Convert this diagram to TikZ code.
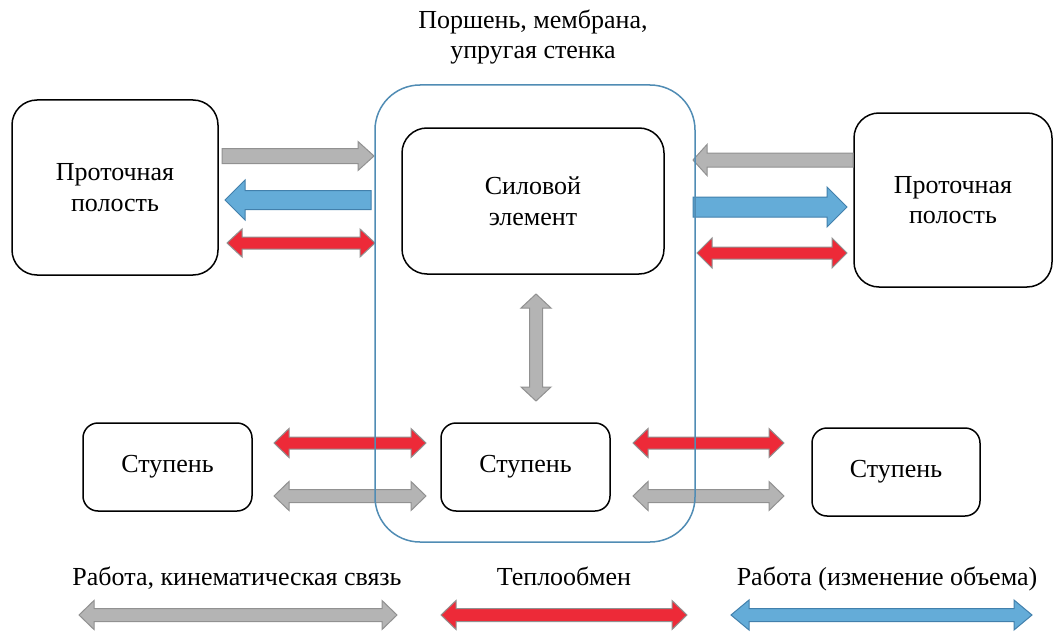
\documentclass[tikz,border=0pt]{standalone}
\usepackage{fontspec}
\setmainfont{Liberation Serif}
\newfontfamily\tnr{Liberation Serif}
\usetikzlibrary{calc}
\definecolor{gfill}{RGB}{180,180,180}
\definecolor{gline}{RGB}{145,145,145}
\definecolor{rfill}{RGB}{237,42,56}
\definecolor{bfill}{RGB}{100,172,216}
\definecolor{bline}{RGB}{66,128,172}
\definecolor{cline}{RGB}{80,140,180}
% single block arrow: style, tail, tip, half shaft, half head, head length
\newcommand\sarrow[6]{%
  \draw[#1] ($(#2)!#4!90:(#3)$) -- ($(#3)!#6!(#2)!#4!90:(#3)$) -- ($(#3)!#6!(#2)!#5!90:(#3)$) -- (#3)
    -- ($(#3)!#6!(#2)!#5!-90:(#3)$) -- ($(#3)!#6!(#2)!#4!-90:(#3)$) -- ($(#2)!#4!-90:(#3)$) -- cycle;}
% double block arrow: style, tip1, tip2, half shaft, half head, head length
\newcommand\darrow[6]{%
  \draw[#1] (#2) -- ($(#2)!#6!(#3)!#5!90:(#3)$) -- ($(#2)!#6!(#3)!#4!90:(#3)$)
    -- ($(#3)!#6!(#2)!#4!90:(#3)$) -- ($(#3)!#6!(#2)!#5!90:(#3)$) -- (#3)
    -- ($(#3)!#6!(#2)!#5!-90:(#3)$) -- ($(#3)!#6!(#2)!#4!-90:(#3)$)
    -- ($(#2)!#6!(#3)!#4!-90:(#3)$) -- ($(#2)!#6!(#3)!#5!-90:(#3)$) -- cycle;}
\tikzset{
  box/.style={draw=black, line width=1.5pt, rounded corners=#1, align=center, inner sep=0pt},
  box/.default=25pt,
  garr/.style={fill=gfill, draw=gline, line width=1pt, line join=miter},
  rarr/.style={fill=rfill, draw=gline, line width=1pt, line join=miter},
  barr/.style={fill=bfill, draw=bline, line width=1pt, line join=miter},
  lbl/.style={align=center, inner sep=0pt},
}
\begin{document}
\begin{tikzpicture}[x=1pt, y=-1pt, font=\tnr\fontsize{26}{30.5}\selectfont]
\useasboundingbox (0,0) rectangle (1053,634);
\fill[white] (0,0) rectangle (1053,634);

% boxes
\node[box, minimum width=206pt, minimum height=175pt] (lcav) at (115,187.5) {Проточная\\полость};
\node[box, minimum width=198pt, minimum height=174pt] (rcav) at (953,200) {Проточная\\полость};
\node[box, minimum width=262pt, minimum height=146pt] (force) at (533,201) {Силовой\\элемент};
\node[box=15pt, minimum width=169pt, minimum height=88pt] (stL) at (167.5,467) {Ступень};
\node[box=15pt, minimum width=169pt, minimum height=88pt] (stC) at (525.5,467) {Ступень};
\node[box=15pt, minimum width=168pt, minimum height=88pt] (stR) at (896,472) {Ступень};

\node[lbl] (toplbl) at (533,37) {Поршень, мембрана,\\упругая стенка};

% arrow end points
\coordinate (a1) at (222,156);  \coordinate (a2) at (374,156);
\coordinate (b1) at (371,200);  \coordinate (b2) at (225,200);
\coordinate (c1) at (227,243);  \coordinate (c2) at (375,243);
\coordinate (d1) at (853,160);  \coordinate (d2) at (693,160);
\coordinate (e1) at (693,207);  \coordinate (e2) at (847,207);
\coordinate (f1) at (697,253);  \coordinate (f2) at (847,253);
\coordinate (v1) at (536,294);  \coordinate (v2) at (536,401);
\coordinate (g1) at (274,443);  \coordinate (g2) at (426,443);
\coordinate (h1) at (274,496);  \coordinate (h2) at (426,496);
\coordinate (i1) at (633,443);  \coordinate (i2) at (784,443);
\coordinate (j1) at (633,496);  \coordinate (j2) at (784,496);

\sarrow{garr}{a1}{a2}{7.5pt}{14.5pt}{16pt}
\sarrow{barr}{b1}{b2}{9.5pt}{20pt}{20pt}
\darrow{rarr}{c1}{c2}{6pt}{14pt}{15pt}
\sarrow{garr}{d1}{d2}{7pt}{15.5pt}{14pt}
\sarrow{barr}{e1}{e2}{10pt}{20pt}{20pt}
\darrow{rarr}{f1}{f2}{6pt}{15pt}{15pt}
\darrow{garr}{v1}{v2}{6.5pt}{15pt}{14pt}
\darrow{rarr}{g1}{g2}{6pt}{14.5pt}{15pt}
\darrow{garr}{h1}{h2}{6.5pt}{14.5pt}{15pt}
\darrow{rarr}{i1}{i2}{6pt}{14.5pt}{15pt}
\darrow{garr}{j1}{j2}{6.5pt}{14.5pt}{15pt}

% container (drawn over arrows)
\node[draw=cline, line width=1.5pt, rounded corners=45pt, minimum width=320pt, minimum height=457pt, inner sep=0pt] (cont) at (535,313.5) {};

% legend
\node[lbl, anchor=base] (lg1) at (237,585) {Работа, кинематическая связь};
\node[lbl, anchor=base] (lg2) at (564,585) {Теплообмен};
\node[lbl, anchor=base] (lg3) at (887,585) {Работа (изменение объема)};
\coordinate (k1) at (79,615);  \coordinate (k2) at (397,615);
\coordinate (l1) at (441,615); \coordinate (l2) at (687,615);
\coordinate (m1) at (731,615); \coordinate (m2) at (1032,615);
\darrow{garr}{k1}{k2}{6.5pt}{14.5pt}{15pt}
\darrow{rarr}{l1}{l2}{6.5pt}{14.5pt}{15pt}
\darrow{barr}{m1}{m2}{6.5pt}{15pt}{18pt}
\end{tikzpicture}
\end{document}
